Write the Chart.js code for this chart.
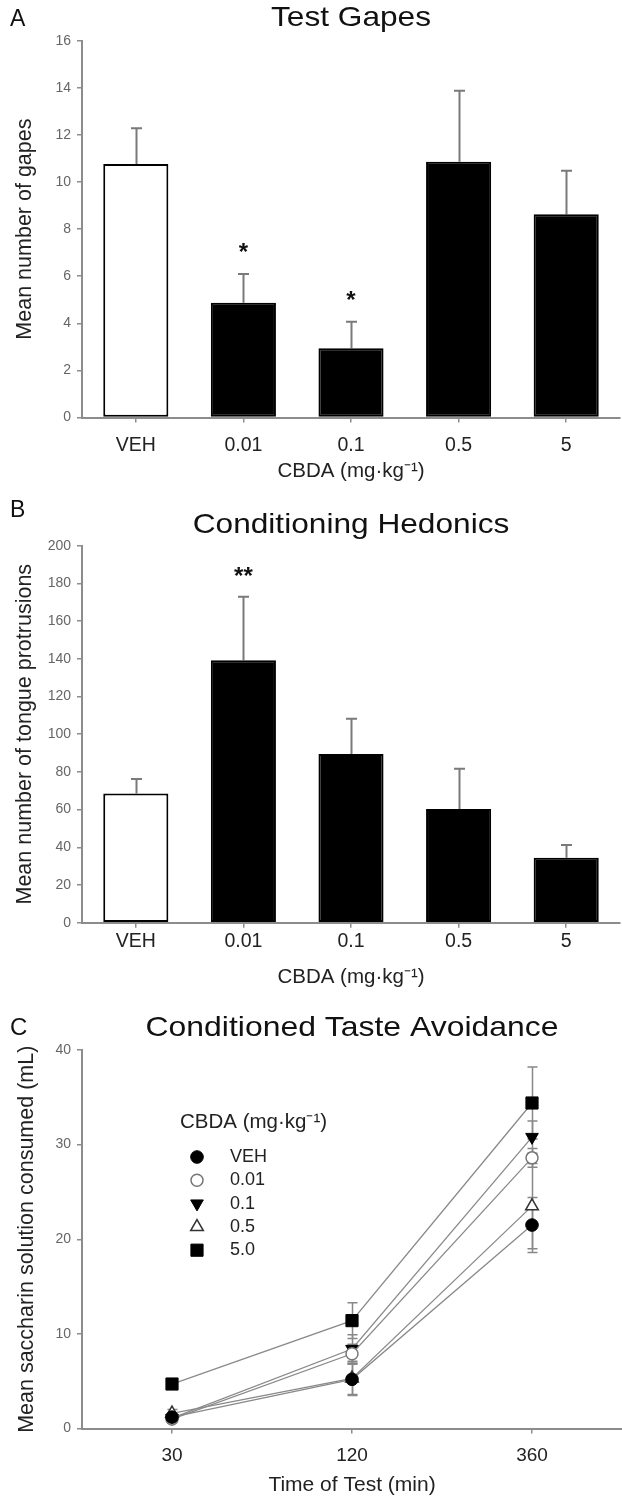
<!DOCTYPE html>
<html><head><meta charset="utf-8">
<script src="https://cdn.jsdelivr.net/npm/chart.js@4.4.1/dist/chart.umd.min.js"></script>
<style>
html,body{margin:0;padding:0;background:#fff;}
#wrap{position:relative;width:622px;height:1498px;overflow:hidden;background:#fff;}
canvas{position:absolute;left:0;}
</style></head><body>
<div id="wrap">
<canvas id="cA" width="622" height="485" style="top:0px;width:622px;height:485px"></canvas>
<canvas id="cB" width="622" height="505" style="top:485px;width:622px;height:505px"></canvas>
<canvas id="cC" width="622" height="508" style="top:990px;width:622px;height:508px"></canvas>
</div>
<script>
// ---------- DATA ----------
const doseLabels = ['VEH', '0.01', '0.1', '0.5', '5'];
const barFills = ['#ffffff', '#000000', '#000000', '#000000', '#000000'];

const gapeMeans = [10.76, 4.87, 2.94, 10.86, 8.63];
const gapeErr   = [1.52, 1.22, 1.13, 3.02, 1.85];
const gapeSig   = ['', '*', '*', '', ''];
const gapeTicks = {min: 0, max: 16, step: 2};

const hedMeans = [68.6, 139.2, 89.5, 60.3, 34.5];
const hedErr   = [7.6, 33.7, 18.7, 21.4, 6.7];
const hedSig   = ['', '**', '', '', ''];
const hedTicks = {min: 0, max: 200, step: 20};

const testTimes = ['30', '120', '360'];
const ctaSeries = ['VEH', '0.01', '0.1', '0.5', '5.0'];
const ctaVEH   = [1.2, 5.2, 21.5];
const ctaVEHe  = [0.3, 1.6, 2.9];
const cta001   = [1.0, 7.9, 28.6];
const cta001e  = [0.3, 1.0, 1.0];
const cta01    = [1.1, 8.4, 30.8];
const cta01e   = [0.3, 1.5, 1.7];
const cta05    = [1.6, 5.3, 23.5];
const cta05e   = [0.4, 1.8, 4.5];
const cta5     = [4.7, 11.4, 34.4];
const cta5e    = [0.3, 1.9, 3.8];
const ctaTicks = {min: 0, max: 40, step: 10};

// ---------- STYLE ----------
const FONT = "'Liberation Sans', Arial, Helvetica, sans-serif";
const AXIS = '#8c8c8c';
Chart.defaults.font.family = FONT;
Chart.defaults.animation = false;

// ---------- PLUGINS ----------
const panelText = {
  id: 'panelText',
  afterDraw(chart, args, o) {
    const ctx = chart.ctx, ca = chart.chartArea;
    ctx.save();
    ctx.fillStyle = '#111';
    ctx.textBaseline = 'alphabetic';
    ctx.textAlign = 'left';
    ctx.font = o.letterSize + 'px ' + FONT;
    ctx.fillText(o.letter, o.letterX, o.letterY);
    ctx.textAlign = 'center';
    ctx.font = o.titleSize + 'px ' + FONT;
    ctx.translate((ca.left + ca.right) / 2, o.titleY);
    ctx.scale(o.stretch, 1);
    ctx.fillText(o.title, 0, 0);
    ctx.restore();
  }
};

const errorBars = {
  id: 'errorBars',
  beforeDatasetsDraw(chart, args, o) {
    const ctx = chart.ctx, ys = chart.scales.y;
    ctx.save();
    ctx.strokeStyle = o.color;
    ctx.lineWidth = o.width;
    o.errors.forEach((errs, di) => {
      const meta = chart.getDatasetMeta(di);
      const vals = chart.data.datasets[di].data;
      meta.data.forEach((el, i) => {
        const v = vals[i], e = errs[i];
        const x = Math.round(el.x) + 0.5;
        const yt = ys.getPixelForValue(v + e);
        const yb = o.both ? ys.getPixelForValue(v - e) : ys.getPixelForValue(v);
        ctx.beginPath();
        ctx.moveTo(x, yb); ctx.lineTo(x, yt);
        ctx.moveTo(x - o.cap, yt); ctx.lineTo(x + o.cap, yt);
        if (o.both) { ctx.moveTo(x - o.cap, yb); ctx.lineTo(x + o.cap, yb); }
        ctx.stroke();
      });
    });
    ctx.restore();
  }
};

const sigMarks = {
  id: 'sigMarks',
  afterDatasetsDraw(chart, args, o) {
    const ctx = chart.ctx, ys = chart.scales.y;
    const meta = chart.getDatasetMeta(0);
    const vals = chart.data.datasets[0].data;
    ctx.save();
    ctx.fillStyle = '#111';
    ctx.font = 'bold ' + o.size + 'px ' + FONT;
    ctx.textAlign = 'center';
    ctx.textBaseline = 'alphabetic';
    o.labels.forEach((t, i) => {
      if (!t) return;
      const y = ys.getPixelForValue(vals[i] + o.errors[i]) - o.offset;
      ctx.fillText(t, meta.data[i].x, y);
    });
    ctx.restore();
  }
};

function drawMarker(ctx, ds, x, y) {
  if (Chart.helpers && Chart.helpers.drawPoint) {
    Chart.helpers.drawPoint(ctx, {pointStyle: ds.pointStyle, rotation: ds.pointRotation || 0,
      radius: ds.pointRadius, borderWidth: ds.pointBorderWidth}, x, y);
    return;
  }
  const r = ds.pointRadius;
  ctx.beginPath();
  if (ds.pointStyle === 'circle') ctx.arc(x, y, r, 0, Math.PI * 2);
  else if (ds.pointStyle === 'rect') { const s = r * Math.SQRT1_2; ctx.rect(x - s, y - s, 2 * s, 2 * s); }
  else {
    let a = (ds.pointRotation || 0) * Math.PI / 180;
    for (let k = 0; k < 3; k++) {
      const px = x + Math.sin(a) * r, py = y - Math.cos(a) * r;
      k ? ctx.lineTo(px, py) : ctx.moveTo(px, py);
      a += Math.PI * 2 / 3;
    }
    ctx.closePath();
  }
  ctx.fill();
  if (ds.pointBorderWidth) ctx.stroke();
}

const markerLegend = {
  id: 'markerLegend',
  afterDatasetsDraw(chart, args, o) {
    const ctx = chart.ctx;
    ctx.save();
    ctx.textAlign = 'left';
    ctx.textBaseline = 'middle';
    ctx.fillStyle = '#222';
    ctx.font = o.titleSize + 'px ' + FONT;
    ctx.fillText(o.title, o.titleX, o.titleY);
    ctx.font = o.labelSize + 'px ' + FONT;
    chart.data.datasets.forEach((ds, i) => {
      const cy = o.rowY + i * o.rowGap;
      ctx.fillStyle = ds.pointBackgroundColor;
      ctx.strokeStyle = ds.pointBorderColor;
      ctx.lineWidth = ds.pointBorderWidth;
      drawMarker(ctx, ds, o.markerX, cy);
      ctx.fillStyle = '#222';
      ctx.fillText(ds.label, o.labelX, cy);
    });
    ctx.restore();
  }
};

// ---------- HELPERS ----------
function yScale(t, title, titlePad) {
  return {
    type: 'linear', min: t.min, max: t.max,
    afterFit: s => { s.width = 82; },
    ticks: {stepSize: t.step, font: {size: 14}, color: '#666', padding: 6},
    grid: {drawOnChartArea: false, drawTicks: true, tickLength: 5, color: AXIS, lineWidth: 1.5},
    border: {display: true, color: AXIS, width: 2},
    title: {display: true, text: title, font: {size: 21.5}, color: '#222', padding: {top: titlePad, bottom: 0}}
  };
}
function xScale(height, title, labelSize, labelPad, titleSize, titlePadBottom) {
  return {
    type: 'category', offset: true,
    afterFit: s => { s.height = height; },
    ticks: {font: {size: labelSize}, color: '#222', padding: labelPad, maxRotation: 0, autoSkip: false},
    grid: {offset: false, drawOnChartArea: false, drawTicks: true, tickLength: 5, color: AXIS, lineWidth: 1.5},
    border: {display: true, color: AXIS, width: 2},
    title: {display: true, text: title, font: {size: titleSize}, color: '#222', padding: {top: 0, bottom: titlePadBottom}}
  };
}
function barChart(id, means, errs, sig, ticks, cfg) {
  return new Chart(document.getElementById(id), {
    type: 'bar',
    data: {labels: doseLabels, datasets: [{
      data: means, backgroundColor: barFills, borderColor: '#000', borderWidth: 2,
      borderSkipped: false, barPercentage: 0.605, categoryPercentage: 1
    }]},
    options: {
      responsive: false, maintainAspectRatio: false, animation: false, events: [],
      layout: {autoPadding: false, padding: {top: cfg.top, right: 2, left: 0, bottom: 0}},
      scales: {
        x: xScale(cfg.xh, 'CBDA (mg\u00B7kg\u207B\u00B9)', 19.5, cfg.labelPad, 20.5, cfg.xtPad),
        y: yScale(ticks, cfg.ytitle, 12)
      },
      plugins: {
        legend: {display: false}, tooltip: {enabled: false},
        panelText: {letter: cfg.letter, title: cfg.title, letterX: 10, letterY: cfg.letterY,
          titleY: cfg.titleY, letterSize: 23, titleSize: 28, stretch: 1.13},
        errorBars: {errors: [errs], both: false, color: '#7a7a7a', width: 2, cap: 5.5},
        sigMarks: {labels: sig, errors: errs, size: 24, offset: cfg.sigOff}
      }
    },
    plugins: [panelText, errorBars, sigMarks]
  });
}

// ---------- PANEL A ----------
barChart('cA', gapeMeans, gapeErr, gapeSig, gapeTicks, {
  top: 40.7, xh: 67.5, labelPad: 11.8, xtPad: 1.2, ytitle: 'Mean number of gapes',
  letter: 'A', title: 'Test Gapes', letterY: 26, titleY: 26, sigOff: 14
});

// ---------- PANEL B ----------
barChart('cB', hedMeans, hedErr, hedSig, hedTicks, {
  top: 60.7, xh: 67.3, labelPad: 2.1, xtPad: 0, ytitle: 'Mean number of tongue protrusions',
  letter: 'B', title: 'Conditioning Hedonics', letterY: 32, titleY: 48, sigOff: 13
});

// ---------- PANEL C ----------
const lineCommon = {borderColor: '#8a8a8a', borderWidth: 1.3, fill: false, tension: 0};
new Chart(document.getElementById('cC'), {
  type: 'line',
  data: {labels: testTimes, datasets: [
    Object.assign({label: ctaSeries[0], data: ctaVEH, pointStyle: 'circle', pointRadius: 6.3,
      pointBackgroundColor: '#000', pointBorderColor: '#000', pointBorderWidth: 1}, lineCommon),
    Object.assign({label: ctaSeries[1], data: cta001, pointStyle: 'circle', pointRadius: 6,
      pointBackgroundColor: '#fff', pointBorderColor: '#777', pointBorderWidth: 1.5}, lineCommon),
    Object.assign({label: ctaSeries[2], data: cta01, pointStyle: 'triangle', pointRotation: 180, pointRadius: 7.3,
      pointBackgroundColor: '#000', pointBorderColor: '#000', pointBorderWidth: 1}, lineCommon),
    Object.assign({label: ctaSeries[3], data: cta05, pointStyle: 'triangle', pointRadius: 7.3,
      pointBackgroundColor: '#fff', pointBorderColor: '#333', pointBorderWidth: 1.5}, lineCommon),
    Object.assign({label: ctaSeries[4], data: cta5, pointStyle: 'rect', pointRadius: 8.6,
      pointBackgroundColor: '#000', pointBorderColor: '#000', pointBorderWidth: 1}, lineCommon)
  ]},
  options: {
    responsive: false, maintainAspectRatio: false, animation: false, events: [],
    layout: {autoPadding: false, padding: {top: 60, right: 0, left: 0, bottom: 0}},
    scales: {
      x: xScale(69.5, 'Time of Test (min)', 19, 10.9, 21, 0),
      y: yScale(ctaTicks, 'Mean saccharin solution consumed (mL)', 14)
    },
    plugins: {
      legend: {display: false}, tooltip: {enabled: false},
      panelText: {letter: 'C', title: 'Conditioned Taste Avoidance', letterX: 10, letterY: 45,
        titleY: 46, letterSize: 24, titleSize: 28, stretch: 1.14},
      errorBars: {errors: [ctaVEHe, cta001e, cta01e, cta05e, cta5e], both: true, color: '#888', width: 1.5, cap: 5},
      markerLegend: {title: 'CBDA (mg\u00B7kg\u207B\u00B9)', titleX: 180, titleY: 132, titleSize: 20.5,
        labelSize: 18, markerX: 197, labelX: 230, rowY: 167, rowGap: 23.3}
    }
  },
  plugins: [panelText, errorBars, markerLegend]
});
</script>
</body></html>
